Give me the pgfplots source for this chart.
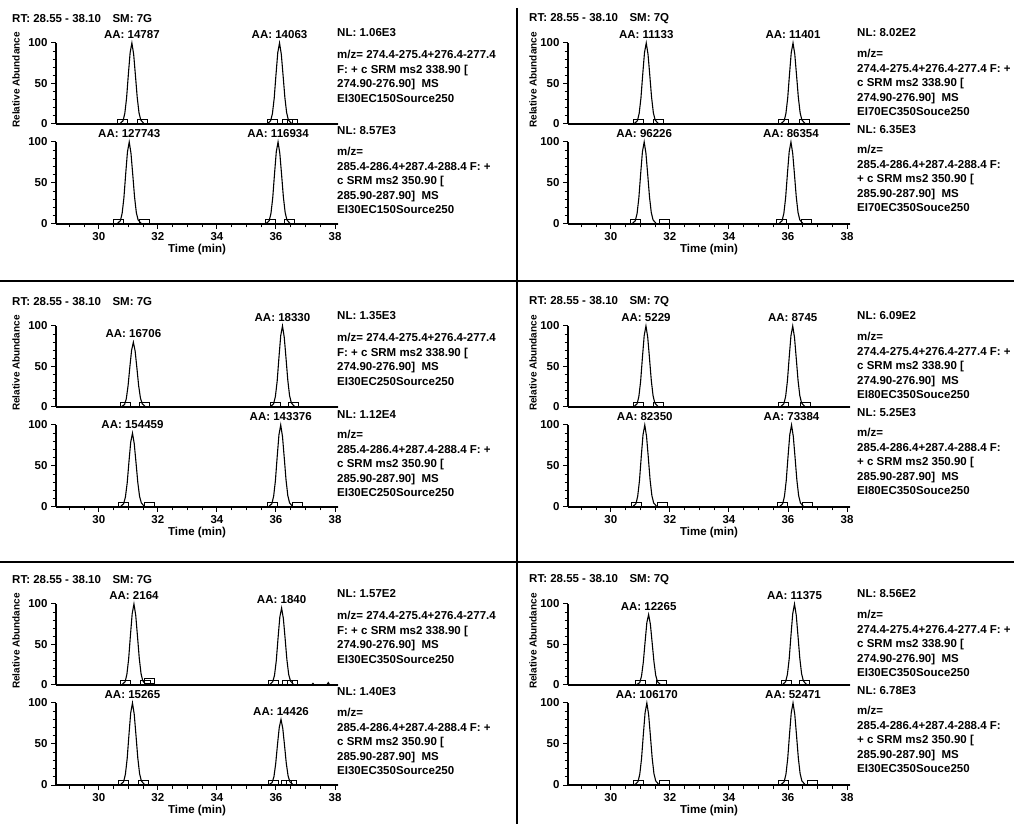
\documentclass[border=0pt]{standalone}
\usepackage{pgfplots}
\pgfplotsset{compat=1.18}
\usepackage{fontspec}
\setmainfont{Liberation Sans}

\newcommand\txt{\fontsize{11.5}{14.5}\selectfont\bfseries}
\newcommand\ylf{\fontsize{10}{12}\selectfont\bfseries}

\pgfplotsset{
  chrom/.style={
    scale only axis, width=282pt, anchor=south west,
    xmin=28.55, xmax=38.10, ymin=0, ymax=100,
    axis x line*=bottom, axis y line*=left,
    axis line style={line width=1.4pt},
    every tick/.style={black, line width=1pt},
    tick align=outside,
    major tick length=5pt, minor tick length=3.5pt,
    ytick={0,50,100}, minor ytick={10,20,30,40,60,70,80,90},
    yticklabel style={font=\txt},
    /pgf/number format/assume math mode=true,
    clip=false,
  },
  upper/.style={chrom, height=81pt, xtick=\empty},
  lower/.style={chrom, height=82pt,
    xtick={30,32,...,38}, minor xtick={29,29.5,...,38},
    xticklabel style={font=\txt},
    xlabel={Time (min)}, xlabel style={font=\txt, yshift=3pt}},
  trace/.style={black, line width=1.1pt, mark=none},
  box/.style={only marks, mark=square, mark size=2.5pt,
    mark options={xscale=2, line width=0.9pt, black}},
}
\tikzset{
  aa/.style={anchor=south, yshift=4pt, inner sep=0pt, font=\txt},
  hd/.style={anchor=west, inner sep=0pt, font=\txt},
  yl/.style={rotate=90, inner sep=0pt, font=\ylf},
  nl/.style={anchor=west, inner sep=0pt, font=\txt},
  body/.style={anchor=north west, inner sep=0pt, align=left, font=\txt},
}

\begin{document}
\begin{tikzpicture}
\useasboundingbox (0pt,0pt) rectangle (1014pt,824pt);

% ---------- row 1, left: EI30EC150Source250
\begin{axis}[upper, at={(56pt,700pt)}]
\addplot[trace] coordinates {(28.55,0)(30.70,0)(30.82,4)(30.88,13)(30.94,32)(31.00,61)(31.06,88)(31.12,100)(31.18,86)(31.24,60)(31.30,33)(31.36,14)(31.42,5)(31.54,0)(35.70,0)(35.82,4)(35.88,13)(35.94,32)(36.00,61)(36.06,88)(36.12,100)(36.18,86)(36.24,60)(36.30,33)(36.36,14)(36.42,5)(36.54,0)(38.10,0)};
\addplot[box] coordinates {(30.80,3)(31.47,3)(35.88,3)(36.38,3)(36.55,3)};
\node[aa] at (axis cs:31.12,100) {AA: 14787};
\node[aa] at (axis cs:36.12,100) {AA: 14063};
\end{axis}
\begin{axis}[lower, at={(56pt,600pt)}]
\addplot[trace] coordinates {(28.55,0)(30.61,0)(30.73,4)(30.79,13)(30.85,32)(30.91,61)(30.97,88)(31.03,100)(31.09,86)(31.15,60)(31.21,33)(31.27,14)(31.33,5)(31.45,0)(35.65,0)(35.77,4)(35.83,13)(35.89,32)(35.95,61)(36.01,88)(36.07,100)(36.13,86)(36.19,60)(36.25,33)(36.31,14)(36.37,5)(36.49,0)(38.10,0)};
\addplot[box] coordinates {(30.68,3)(31.55,3)(35.80,3)(36.47,3)};
\node[aa] at (axis cs:31.03,100) {AA: 127743};
\node[aa] at (axis cs:36.07,100) {AA: 116934};
\end{axis}

% ---------- row 1, right: EI70EC350Souce250
\begin{axis}[upper, at={(568pt,700pt)}]
\addplot[trace] coordinates {(28.55,0)(30.78,0)(30.90,4)(30.96,13)(31.02,32)(31.08,61)(31.14,88)(31.20,100)(31.26,86)(31.32,60)(31.38,33)(31.44,14)(31.50,5)(31.62,0)(35.75,0)(35.87,4)(35.93,13)(35.99,32)(36.05,61)(36.11,88)(36.17,100)(36.23,86)(36.29,60)(36.35,33)(36.41,14)(36.47,5)(36.59,0)(38.10,0)};
\addplot[box] coordinates {(30.94,3)(31.62,3)(35.85,3)(36.55,3)};
\node[aa] at (axis cs:31.20,100) {AA: 11133};
\node[aa] at (axis cs:36.17,100) {AA: 11401};
\end{axis}
\begin{axis}[lower, at={(568pt,600pt)}]
\addplot[trace] coordinates {(28.55,0)(30.71,0)(30.83,4)(30.89,13)(30.95,32)(31.01,61)(31.07,88)(31.13,100)(31.19,86)(31.25,60)(31.31,33)(31.37,14)(31.43,5)(31.55,0)(35.68,0)(35.80,4)(35.86,13)(35.92,32)(35.98,61)(36.04,88)(36.10,100)(36.16,86)(36.22,60)(36.28,33)(36.34,14)(36.40,5)(36.52,0)(38.10,0)};
\addplot[box] coordinates {(30.83,3)(31.80,3)(35.78,3)(36.62,3)};
\node[aa] at (axis cs:31.13,100) {AA: 96226};
\node[aa] at (axis cs:36.10,100) {AA: 86354};
\end{axis}

% ---------- row 2, left: EI30EC250Source250
\begin{axis}[upper, at={(56pt,417pt)}]
\addplot[trace] coordinates {(28.55,0)(30.75,0)(30.87,3)(30.93,10)(30.99,26)(31.05,49)(31.11,70)(31.17,80)(31.23,69)(31.29,48)(31.35,26)(31.41,11)(31.47,4)(31.59,0)(35.80,0)(35.92,4)(35.98,13)(36.04,32)(36.10,61)(36.16,88)(36.22,100)(36.28,86)(36.34,60)(36.40,33)(36.46,14)(36.52,5)(36.64,0)(38.10,0)};
\addplot[box] coordinates {(30.89,3)(31.53,3)(35.97,3)(36.59,3)};
\node[aa] at (axis cs:31.17,80) {AA: 16706};
\node[aa] at (axis cs:36.22,100) {AA: 18330};
\end{axis}
\begin{axis}[lower, at={(56pt,317pt)}]
\addplot[trace] coordinates {(28.55,0)(30.72,0)(30.84,4)(30.90,12)(30.96,29)(31.02,55)(31.08,79)(31.14,90)(31.20,77)(31.26,54)(31.32,30)(31.38,13)(31.44,5)(31.56,0)(35.74,0)(35.86,4)(35.92,13)(35.98,32)(36.04,61)(36.10,88)(36.16,100)(36.22,86)(36.28,60)(36.34,33)(36.40,14)(36.46,5)(36.58,0)(38.10,0)};
\addplot[box] coordinates {(30.82,3)(31.70,3)(35.88,3)(36.74,3)};
\node[aa] at (axis cs:31.14,90) {AA: 154459};
\node[aa] at (axis cs:36.16,100) {AA: 143376};
\end{axis}

% ---------- row 2, right: EI80EC350Souce250
\begin{axis}[upper, at={(568pt,417pt)}]
\addplot[trace] coordinates {(28.55,0)(30.77,0)(30.89,4)(30.95,13)(31.01,32)(31.07,61)(31.13,88)(31.19,100)(31.25,86)(31.31,60)(31.37,33)(31.43,14)(31.49,5)(31.61,0)(35.74,0)(35.86,4)(35.92,13)(35.98,32)(36.04,61)(36.10,88)(36.16,100)(36.22,86)(36.28,60)(36.34,33)(36.40,14)(36.46,5)(36.58,0)(38.10,0)};
\addplot[box] coordinates {(30.95,3)(31.62,3)(35.86,3)(36.58,3)};
\node[aa] at (axis cs:31.19,100) {AA: 5229};
\node[aa] at (axis cs:36.16,100) {AA: 8745};
\end{axis}
\begin{axis}[lower, at={(568pt,317pt)}]
\addplot[trace] coordinates {(28.55,0)(30.73,0)(30.85,4)(30.91,13)(30.97,32)(31.03,61)(31.09,88)(31.15,100)(31.21,86)(31.27,60)(31.33,33)(31.39,14)(31.45,5)(31.57,0)(35.70,0)(35.82,4)(35.88,13)(35.94,32)(36.00,61)(36.06,88)(36.12,100)(36.18,86)(36.24,60)(36.30,33)(36.36,14)(36.42,5)(36.54,0)(38.10,0)};
\addplot[box] coordinates {(30.86,3)(31.74,3)(35.81,3)(36.67,3)};
\node[aa] at (axis cs:31.15,100) {AA: 82350};
\node[aa] at (axis cs:36.12,100) {AA: 73384};
\end{axis}

% ---------- row 3, left: EI30EC350Source250
\begin{axis}[upper, at={(56pt,139pt)}]
\addplot[trace] coordinates {(28.55,0)(30.77,0)(30.89,4)(30.95,13)(31.01,32)(31.07,61)(31.13,88)(31.19,100)(31.25,86)(31.31,60)(31.37,33)(31.43,14)(31.49,5)(31.61,0)(35.77,0)(35.89,4)(35.95,12)(36.01,30)(36.07,58)(36.13,84)(36.19,95)(36.25,82)(36.31,57)(36.37,31)(36.43,13)(36.49,5)(36.61,0)(37.20,0)(37.25,2)(37.30,0)(37.72,0)(37.77,3)(37.82,0)(38.10,0)};
\addplot[box] coordinates {(30.91,3)(31.59,3)(31.72,5)(35.93,3)(36.40,3)(36.57,3)};
\node[aa] at (axis cs:31.19,100) {AA: 2164};
\node[aa] at (axis cs:36.19,95) {AA: 1840};
\end{axis}
\begin{axis}[lower, at={(56pt,39pt)}]
\addplot[trace] coordinates {(28.55,0)(30.72,0)(30.84,4)(30.90,13)(30.96,32)(31.02,61)(31.08,88)(31.14,100)(31.20,86)(31.26,60)(31.32,33)(31.38,14)(31.44,5)(31.56,0)(35.75,0)(35.87,3)(35.93,10)(35.99,26)(36.05,49)(36.11,70)(36.17,80)(36.23,69)(36.29,48)(36.35,26)(36.41,11)(36.47,4)(36.59,0)(38.10,0)};
\addplot[box] coordinates {(30.85,3)(31.51,3)(35.93,3)(36.35,3)(36.52,3)};
\node[aa] at (axis cs:31.14,100) {AA: 15265};
\node[aa] at (axis cs:36.17,80) {AA: 14426};
\end{axis}

% ---------- row 3, right: EI30EC350Souce250
\begin{axis}[upper, at={(568pt,139pt)}]
\addplot[trace] coordinates {(28.55,0)(30.86,0)(30.98,3)(31.04,11)(31.10,28)(31.16,53)(31.22,77)(31.28,87)(31.34,75)(31.40,52)(31.46,29)(31.52,12)(31.58,4)(31.70,0)(35.80,0)(35.92,4)(35.98,13)(36.04,32)(36.10,61)(36.16,88)(36.22,100)(36.28,86)(36.34,60)(36.40,33)(36.46,14)(36.52,5)(36.64,0)(38.10,0)};
\addplot[box] coordinates {(31.00,3)(31.70,3)(35.94,3)(36.56,3)};
\node[aa] at (axis cs:31.28,87) {AA: 12265};
\node[aa] at (axis cs:36.22,100) {AA: 11375};
\end{axis}
\begin{axis}[lower, at={(568pt,39pt)}]
\addplot[trace] coordinates {(28.55,0)(30.80,0)(30.92,4)(30.98,13)(31.04,32)(31.10,61)(31.16,88)(31.22,100)(31.28,86)(31.34,60)(31.40,33)(31.46,14)(31.52,5)(31.64,0)(35.75,0)(35.87,4)(35.93,13)(35.99,32)(36.05,61)(36.11,88)(36.17,100)(36.23,86)(36.29,60)(36.35,33)(36.41,14)(36.47,5)(36.59,0)(38.10,0)};
\addplot[box] coordinates {(30.94,3)(31.80,3)(35.86,3)(36.83,3)};
\node[aa] at (axis cs:31.22,100) {AA: 106170};
\node[aa] at (axis cs:36.17,100) {AA: 52471};
\end{axis}

% ---------- frame lines and text, in pixel coordinates (y downwards)
\begin{scope}[x=1pt, y=-1pt, yshift=824pt]
\draw[line width=1.5pt] (0,281) -- (1014,281);
\draw[line width=1.5pt] (0,562) -- (1014,562);
\draw[line width=1.5pt] (517,8) -- (517,824);

\foreach \ry in {0,283,561} {
  \node[hd] at (12,\ry+19) {RT: 28.55 - 38.10\quad SM: 7G};
  \node[yl] at (16,\ry+80) {Relative Abundance};
  \node[hd] at (529,\ry+19) {RT: 28.55 - 38.10\quad SM: 7Q};
  \node[yl] at (533,\ry+80) {Relative Abundance};
}

% row 1 left
\node[nl] at (337,33) {NL: 1.06E3};
\node[body] at (337,50) {m/z= 274.4-275.4+276.4-277.4\\F: + c SRM ms2 338.90 [\\274.90-276.90]\ \ MS\\EI30EC150Source250};
\node[nl] at (337,131) {NL: 8.57E3};
\node[body] at (337,147) {m/z=\\285.4-286.4+287.4-288.4 F: +\\c SRM ms2 350.90 [\\285.90-287.90]\ \ MS\\EI30EC150Source250};
% row 1 right
\node[nl] at (857,33) {NL: 8.02E2};
\node[body] at (857,49) {m/z=\\274.4-275.4+276.4-277.4 F: +\\c SRM ms2 338.90 [\\274.90-276.90]\ \ MS\\EI70EC350Souce250};
\node[nl] at (857,130) {NL: 6.35E3};
\node[body] at (857,145) {m/z=\\285.4-286.4+287.4-288.4 F:\\+ c SRM ms2 350.90 [\\285.90-287.90]\ \ MS\\EI70EC350Souce250};

% row 2 left
\node[nl] at (337,316) {NL: 1.35E3};
\node[body] at (337,333) {m/z= 274.4-275.4+276.4-277.4\\F: + c SRM ms2 338.90 [\\274.90-276.90]\ \ MS\\EI30EC250Source250};
\node[nl] at (337,414) {NL: 1.12E4};
\node[body] at (337,430) {m/z=\\285.4-286.4+287.4-288.4 F: +\\c SRM ms2 350.90 [\\285.90-287.90]\ \ MS\\EI30EC250Source250};
% row 2 right
\node[nl] at (857,316) {NL: 6.09E2};
\node[body] at (857,332) {m/z=\\274.4-275.4+276.4-277.4 F: +\\c SRM ms2 338.90 [\\274.90-276.90]\ \ MS\\EI80EC350Souce250};
\node[nl] at (857,413) {NL: 5.25E3};
\node[body] at (857,428) {m/z=\\285.4-286.4+287.4-288.4 F:\\+ c SRM ms2 350.90 [\\285.90-287.90]\ \ MS\\EI80EC350Souce250};

% row 3 left
\node[nl] at (337,594) {NL: 1.57E2};
\node[body] at (337,611) {m/z= 274.4-275.4+276.4-277.4\\F: + c SRM ms2 338.90 [\\274.90-276.90]\ \ MS\\EI30EC350Source250};
\node[nl] at (337,692) {NL: 1.40E3};
\node[body] at (337,708) {m/z=\\285.4-286.4+287.4-288.4 F: +\\c SRM ms2 350.90 [\\285.90-287.90]\ \ MS\\EI30EC350Source250};
% row 3 right
\node[nl] at (857,594) {NL: 8.56E2};
\node[body] at (857,610) {m/z=\\274.4-275.4+276.4-277.4 F: +\\c SRM ms2 338.90 [\\274.90-276.90]\ \ MS\\EI30EC350Souce250};
\node[nl] at (857,691) {NL: 6.78E3};
\node[body] at (857,706) {m/z=\\285.4-286.4+287.4-288.4 F:\\+ c SRM ms2 350.90 [\\285.90-287.90]\ \ MS\\EI30EC350Souce250};
\end{scope}
\end{tikzpicture}
\end{document}
